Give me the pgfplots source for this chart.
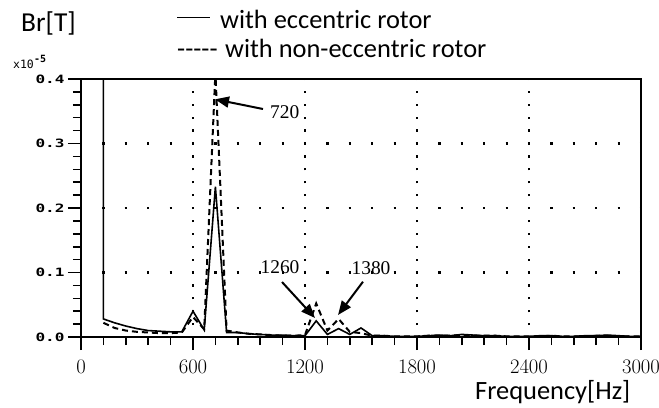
\documentclass[border=0pt]{standalone}
\usepackage{pgfplots}
\pgfplotsset{compat=1.18}
\usepackage{fontspec}
\usepackage{graphicx}
\usetikzlibrary{arrows.meta}
\setmainfont{Liberation Serif}
\newfontfamily\lblfont{Carlito}
\newfontfamily\monofont{DejaVu Sans Mono}
\newcommand\mono[2][11.5]{\scalebox{1.4}[1]{\monofont\bfseries\fontsize{#1}{13}\selectfont #2}}
\newcommand\lbl{\lblfont\fontsize{26.5}{31}\selectfont}
\newcommand\num{\fontsize{19.5}{22}\selectfont}

\begin{document}
\begin{tikzpicture}[x=1bp,y=1bp]
\useasboundingbox (0,0) rectangle (659,407);
\begin{axis}[
  at={(81bp,70bp)}, anchor=south west,
  scale only axis, width=560bp, height=258bp,
  xmin=0, xmax=3000, ymin=0, ymax=0.4,
  xtick={0,600,1200,1800,2400,3000},
  ytick={0,0.1,0.2,0.3,0.4},
  yticklabels={\mono{0.0},\mono{0.1},\mono{0.2},\mono{0.3},\mono{0.4}},
  xticklabel style={font=\num, yshift=-7bp},
  /pgf/number format/1000 sep={},
  scaled ticks=false,
  minor x tick num=4, minor y tick num=4,
  tick align=outside, tick pos=left,
  major tick length=13bp, minor tick length=8bp,
  tick style={black, line width=1.6bp},
  axis line style={line width=1.8bp},
  grid=major,
  major x grid style={black, line width=2.2bp, dash pattern=on 2.2bp off 10.7bp, dash phase=1.1bp},
  major y grid style={black, line width=2.2bp, dash pattern=on 2.2bp off 20.2bp, dash phase=1.1bp},
]
% with eccentric rotor
\addplot[black, line width=1.6bp] coordinates {
  (120,1.0) (120,0.028) (180,0.022) (240,0.017) (300,0.013) (360,0.010)
  (420,0.009) (480,0.008) (540,0.008) (600,0.040) (660,0.011) (720,0.233)
  (780,0.007) (840,0.007) (900,0.005) (960,0.004) (1020,0.003) (1080,0.003)
  (1140,0.002) (1200,0.002) (1260,0.025) (1320,0.004) (1380,0.013) (1440,0.004)
  (1500,0.014) (1560,0.002) (1620,0.002) (1680,0.001) (1740,0.001) (1800,0.001)
  (1860,0.002) (1920,0.003) (1980,0.002) (2040,0.004) (2100,0.003) (2160,0.002)
  (2220,0.002) (2280,0.001) (2340,0.001) (2400,0.001) (2460,0.002) (2520,0.002)
  (2580,0.001) (2640,0.001) (2700,0.002) (2760,0.002) (2820,0.003) (2880,0.002)
  (2940,0.001) (3000,0.001)
};
% with non-eccentric rotor
\addplot[black, line width=2bp, dash pattern=on 6bp off 4bp] coordinates {
  (120,0.022) (180,0.014) (240,0.010) (300,0.008) (360,0.007) (420,0.006)
  (480,0.006) (540,0.007) (600,0.031) (660,0.012) (720,0.410) (780,0.010)
  (840,0.007) (900,0.005) (960,0.004) (1020,0.003) (1080,0.002) (1140,0.002)
  (1200,0.003) (1260,0.052) (1320,0.010) (1380,0.028) (1440,0.008) (1500,0.006)
  (1560,0.002) (1620,0.002) (1680,0.001) (1740,0.001) (1800,0.001) (1860,0.002)
  (1920,0.002) (1980,0.002) (2040,0.003) (2100,0.002) (2160,0.002) (2220,0.002)
  (2280,0.001) (2340,0.001) (2400,0.001) (2460,0.001) (2520,0.002) (2580,0.001)
  (2640,0.001) (2700,0.001) (2760,0.002) (2820,0.002) (2880,0.001) (2940,0.001)
  (3000,0.001)
};
\end{axis}
% labels and legend
\node[anchor=base west, inner sep=0] at (21,375.3) {\lblfont\fontsize{27.5}{32}\selectfont Br[T]};
\draw[line width=1bp] (177,389) -- (210,389);
\node[anchor=base west, inner sep=0] at (220,379) {\lbl with eccentric rotor};
\node[anchor=base west, inner sep=0] at (177,350) {\lbl -{}-{}-{}-{}-};
\node[anchor=base west, inner sep=0] at (225,350) {\lbl with non-eccentric rotor};
\node[anchor=base west, inner sep=0] at (13,339) {\monofont\fontsize{11.5}{13}\selectfont x10};
\node[anchor=base west, inner sep=0] at (34,345) {\monofont\bfseries\fontsize{10}{12}\selectfont -5};
\node[anchor=base west, inner sep=0] at (475,8) {\lbl Frequency[Hz]};
% annotations
\node[anchor=west, inner sep=0] at (270,295.3) {\num 720};
\draw[-{Triangle[length=14bp,width=11bp]}, line width=2bp] (263,298) -- (215,307.7);
\node[inner sep=0] at (280,140) {\num 1260};
\draw[-{Triangle[length=14bp,width=11bp]}, line width=2bp] (282,125) -- (315,89);
\node[inner sep=0] at (371,139) {\num 1380};
\draw[-{Triangle[length=14bp,width=11bp]}, line width=2bp] (363,125.3) -- (338,92);
\end{tikzpicture}
\end{document}
